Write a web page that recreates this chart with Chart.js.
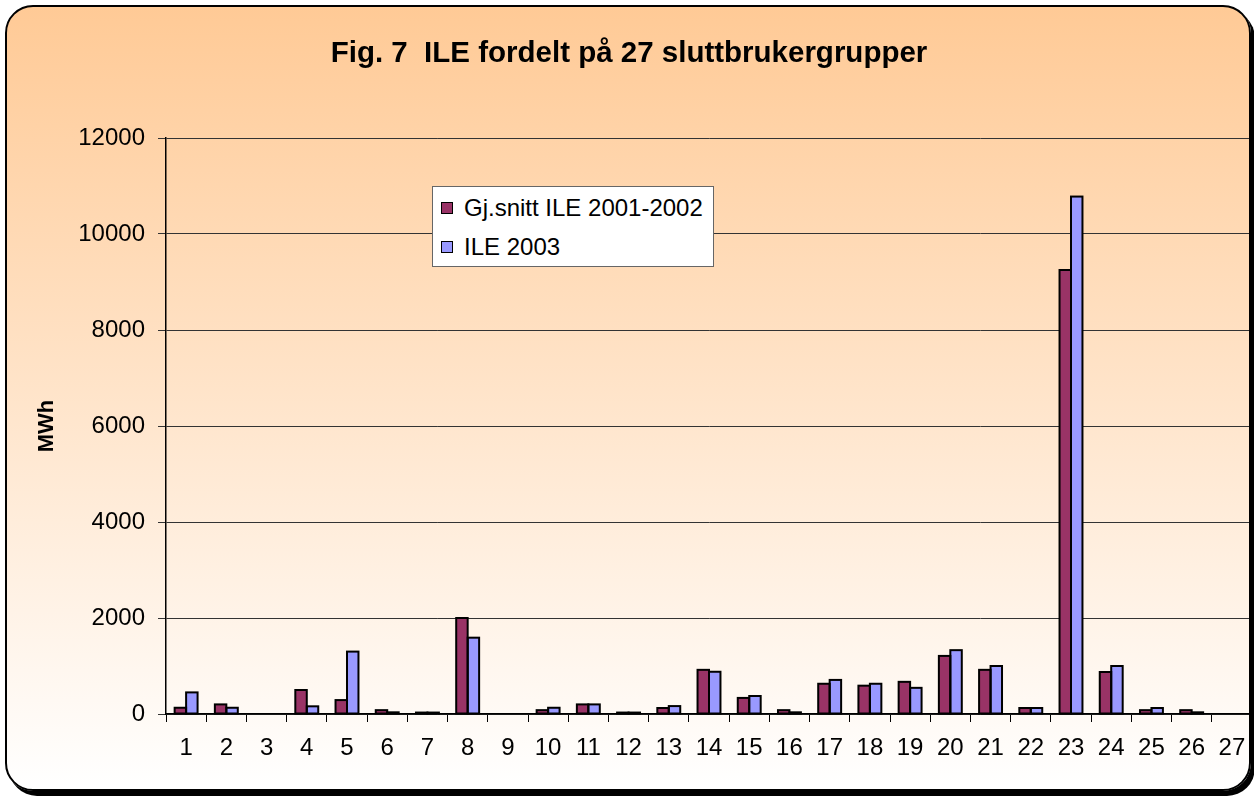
<!DOCTYPE html>
<html>
<head>
<meta charset="utf-8">
<script src="https://cdn.jsdelivr.net/npm/chart.js@4.4.1/dist/chart.umd.min.js"></script>
<style>
html,body{margin:0;padding:0;width:1254px;height:796px;overflow:hidden;background:#ffffff;}
#frame{position:absolute;left:5px;top:5px;width:1246px;height:786px;box-sizing:border-box;border:2px solid #000;border-radius:28px;box-shadow:4px 5px 0 #000;background:linear-gradient(to bottom,#FFCA96 0%,#FFFFFF 100%);overflow:hidden;}
#wrap{position:absolute;left:-7px;top:-7px;width:1270px;height:796px;}
#legend{position:absolute;left:432px;top:186px;width:282px;height:81px;box-sizing:border-box;background:#fff;border:1px solid #666;font-family:"Liberation Sans",Arial,sans-serif;font-size:24px;color:#000;}
.lrow{position:absolute;left:8px;height:28px;display:flex;align-items:center;white-space:nowrap;}
.lbox{width:10px;height:10px;border:1px solid #000;margin-right:11px;}
</style>
</head>
<body>
<div id="frame"><div id="wrap"><canvas id="c" width="1270" height="796"></canvas></div></div>
<div id="legend"></div>
<script>
const chartTitle = 'Fig. 7  ILE fordelt på 27 sluttbrukergrupper';
const yAxisTitle = 'MWh';
const categories = ['1','2','3','4','5','6','7','8','9','10','11','12','13','14','15','16','17','18','19','20','21','22','23','24','25','26','27'];
const seriesNames = ['Gj.snitt ILE 2001-2002', 'ILE 2003'];
const avg2001_2002 = [130, 200, 0, 500, 290, 80, 30, 2000, 0, 80, 200, 30, 125, 920, 335, 80, 630, 590, 670, 1210, 920, 125, 9250, 875, 80, 80, 0];
const ile2003 = [450, 130, 0, 160, 1300, 35, 30, 1590, 0, 130, 200, 30, 165, 880, 375, 35, 710, 630, 545, 1330, 1000, 125, 10780, 1000, 125, 35, 0];
const yMin = 0, yMax = 12000, yStep = 2000;
const seriesColors = ['#993366', '#9999FF'];

const FONT = '"Liberation Sans", Arial, sans-serif';

// Excel-style outline centred on each bar edge (uses the bar elements laid out by Chart.js)
const barOutline = {
  id: 'barOutline',
  afterDatasetsDraw(chart) {
    const ctx = chart.ctx;
    ctx.save();
    ctx.strokeStyle = '#000';
    ctx.lineWidth = 2;
    chart.data.datasets.forEach((ds, i) => {
      const meta = chart.getDatasetMeta(i);
      meta.data.forEach((bar, j) => {
        if (!ds.data[j]) return;
        const p = bar.getProps(['x', 'y', 'base', 'width'], true);
        const top = Math.min(p.y, p.base);
        const h = Math.abs(p.base - p.y);
        ctx.strokeRect(p.x - p.width / 2, top, p.width, h);
      });
    });
    ctx.restore();
  }
};

const chart = new Chart(document.getElementById('c'), {
  type: 'bar',
  data: {
    labels: categories,
    datasets: [
      { label: seriesNames[0], data: avg2001_2002, backgroundColor: seriesColors[0], borderWidth: 0 },
      { label: seriesNames[1], data: ile2003, backgroundColor: seriesColors[1], borderWidth: 0 }
    ]
  },
  plugins: [barOutline],
  options: {
    responsive: false,
    animation: false,
    devicePixelRatio: 1,
    layout: { padding: { left: 6, right: 18, top: 0, bottom: 0 } },
    datasets: { bar: { categoryPercentage: 0.57, barPercentage: 1.0 } },
    plugins: {
      legend: { display: false },
      tooltip: { enabled: false },
      title: {
        display: true,
        text: chartTitle,
        color: '#000',
        font: { family: FONT, size: 29.5, weight: 'bold', lineHeight: 1.2 },
        padding: { top: 35.8, bottom: 66.8 }
      }
    },
    scales: {
      x: {
        offset: true,
        grid: { display: true, drawOnChartArea: false, drawTicks: true, tickLength: 8, color: '#000', lineWidth: 1, offset: true },
        border: { display: true, color: '#000', width: 1.5 },
        ticks: { color: '#000', font: { family: FONT, size: 24 }, padding: 12, maxRotation: 0, autoSkip: false },
        afterFit: (s) => { s.height = 82; }
      },
      y: {
        min: yMin, max: yMax,
        grid: { color: '#333', lineWidth: 1, tickLength: 8, drawTicks: true },
        border: { display: true, color: '#000', width: 1.5 },
        ticks: { stepSize: yStep, color: '#000', font: { family: FONT, size: 24 }, padding: 13, callback: (v) => String(v) },
        title: { display: true, text: yAxisTitle, color: '#000', font: { family: FONT, size: 22, weight: 'bold', lineHeight: 1.2 }, padding: { top: 27.8, bottom: 0 } },
        afterFit: (s) => { s.width = 160; }
      }
    }
  }
});

// HTML legend built from the chart's datasets
const legendEl = document.getElementById('legend');
const rowCenters = [21, 60];
chart.data.datasets.forEach((ds, i) => {
  const row = document.createElement('div');
  row.className = 'lrow';
  row.style.top = (rowCenters[i] - 14) + 'px';
  const box = document.createElement('span');
  box.className = 'lbox';
  box.style.background = ds.backgroundColor;
  const txt = document.createElement('span');
  txt.textContent = ds.label;
  row.appendChild(box);
  row.appendChild(txt);
  legendEl.appendChild(row);
});
</script>
</body>
</html>
